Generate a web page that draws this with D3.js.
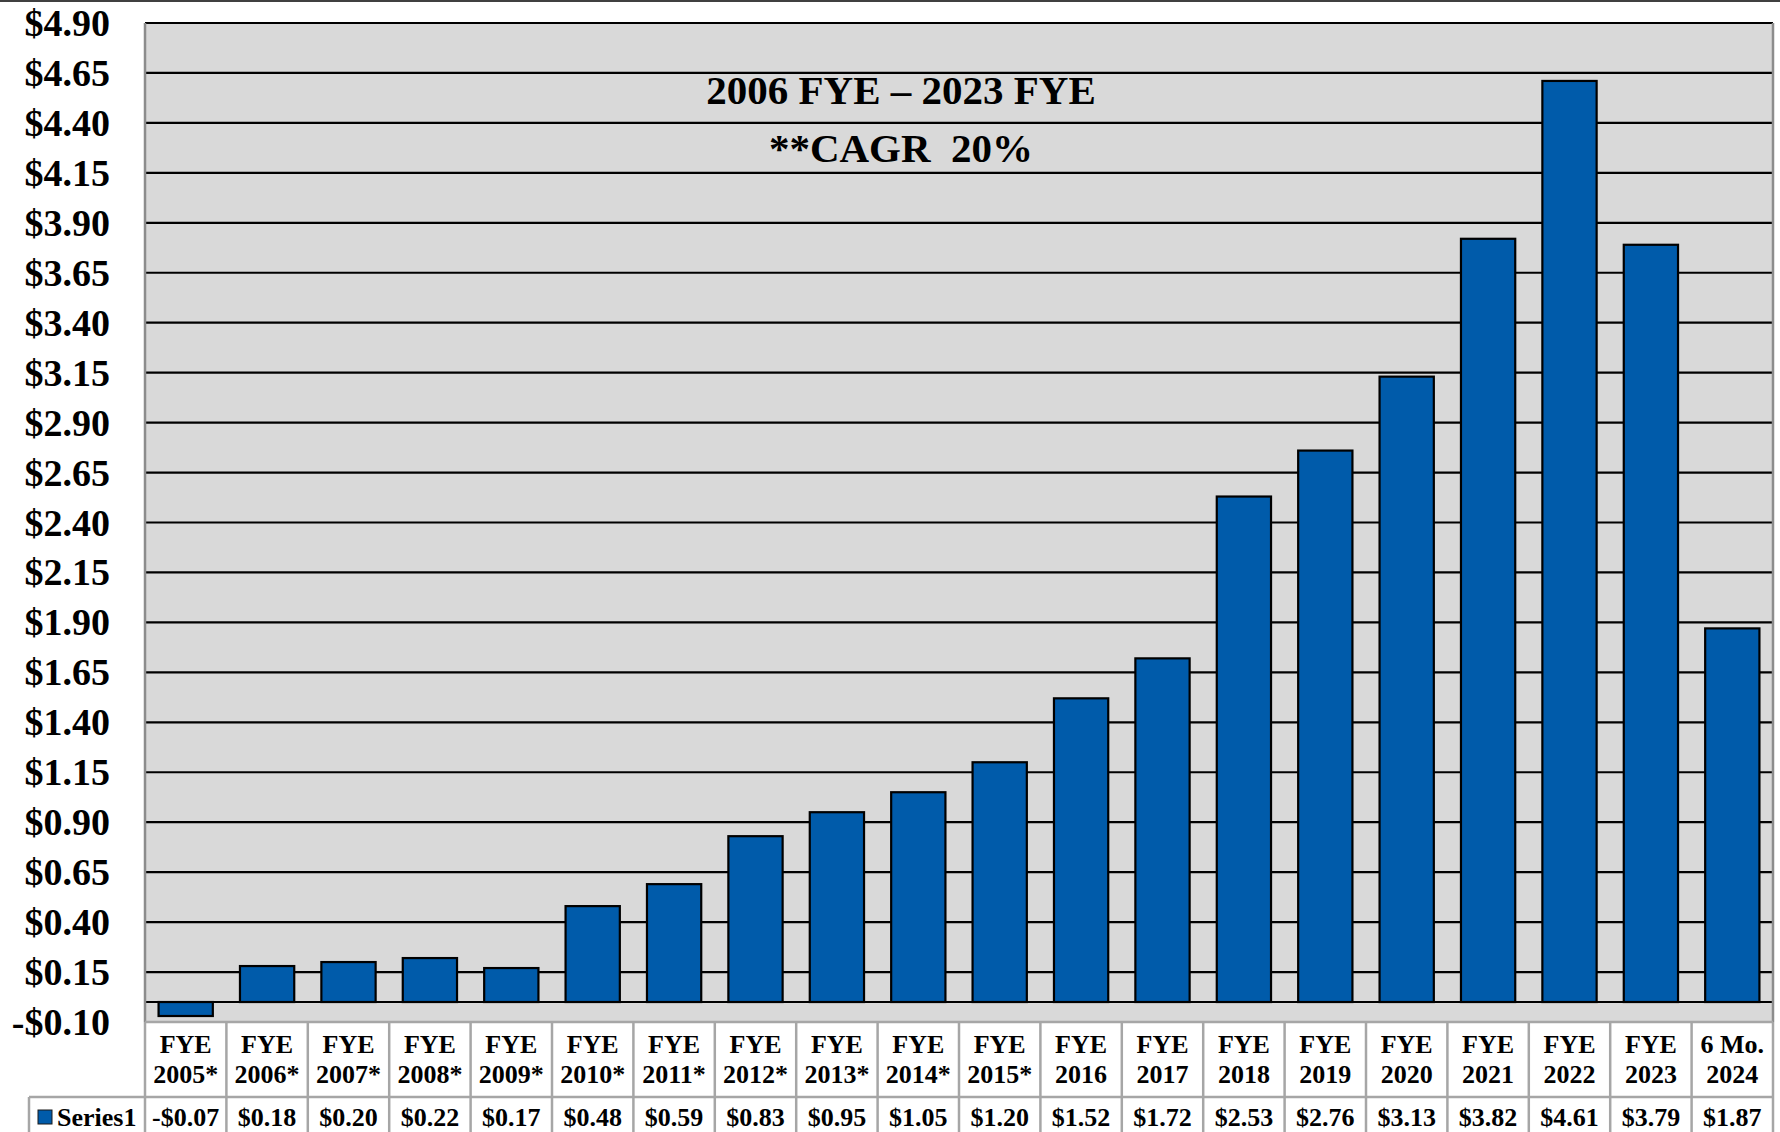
<!DOCTYPE html>
<html>
<head>
<meta charset="utf-8">
<script src="https://cdn.jsdelivr.net/npm/d3@7"></script>
<style>
  body { margin: 0; background: #fff; }
  svg { display: block; }
</style>
</head>
<body>
<div id="container"></div>
<script>
// ---- data
const categories = ["FYE 2005*", "FYE 2006*", "FYE 2007*", "FYE 2008*", "FYE 2009*",
                    "FYE 2010*", "FYE 2011*", "FYE 2012*", "FYE 2013*", "FYE 2014*",
                    "FYE 2015*", "FYE 2016", "FYE 2017", "FYE 2018", "FYE 2019",
                    "FYE 2020", "FYE 2021", "FYE 2022", "FYE 2023", "6 Mo. 2024"];
const values = [-0.07, 0.18, 0.20, 0.22, 0.17, 0.48, 0.59, 0.83, 0.95, 1.05,
                1.20, 1.52, 1.72, 2.53, 2.76, 3.13, 3.82, 4.61, 3.79, 1.87];
const tickValues = [-0.10, 0.15, 0.40, 0.65, 0.90, 1.15, 1.40, 1.65, 1.90, 2.15, 2.40,
                    2.65, 2.90, 3.15, 3.40, 3.65, 3.90, 4.15, 4.40, 4.65, 4.90];
const seriesName = "Series1";
const titleLines = ["2006 FYE \u2013 2023 FYE", "**CAGR  20%"];

(function(){
    const width = 1780, height = 1132;
    const plot = {left: 145, right: 1773, top: 23, bottom: 1022};
    const rowSplit = 1097;       // line between category row and value row
    const legendLeft = 29;
    const blue = "#005BAA";
    const font = "'Liberation Serif', 'Times New Roman', serif";

    const x = d3.scaleBand()
        .domain(categories)
        .range([plot.left, plot.right])
        .paddingInner(1/3)
        .paddingOuter(1/6);
    // band step used for the table columns
    const step = x.step();
    const colLeft = i => plot.left + i * step;

    const y = d3.scaleLinear()
        .domain([tickValues[0], tickValues[tickValues.length - 1]])
        .range([plot.bottom, plot.top]);

    const fmt = d => (d < 0 ? "-" : "") + "$" + Math.abs(d).toFixed(2);

    const svg = d3.select("#container").append("svg")
        .attr("width", width)
        .attr("height", height)
        .style("font-family", font)
        .style("font-weight", "bold");

    svg.append("rect").attr("width", width).attr("height", height).attr("fill", "#fff");
    // chart border top edge
    svg.append("line")
        .attr("x1", 0).attr("x2", width).attr("y1", 1).attr("y2", 1)
        .attr("stroke", "#404040").attr("stroke-width", 2);

    // plot background
    svg.append("rect")
        .attr("x", plot.left).attr("y", plot.top)
        .attr("width", plot.right - plot.left)
        .attr("height", plot.bottom - plot.top)
        .attr("fill", "#D9D9D9");

    // gridlines
    svg.append("g")
        .selectAll("line")
        .data(tickValues.slice(1))
        .join("line")
        .attr("x1", plot.left).attr("x2", plot.right)
        .attr("y1", d => y(d)).attr("y2", d => y(d))
        .attr("stroke", "#000").attr("stroke-width", 2.2);

    // y axis labels
    const yAxis = d3.axisLeft(y).tickValues(tickValues).tickFormat(fmt).tickSize(0).tickPadding(0);
    svg.append("g")
        .attr("transform", `translate(110,0)`)
        .call(yAxis)
        .call(g => g.select(".domain").remove())
        .call(g => g.selectAll("text")
            .attr("fill", "#000")
            .style("font-family", font)
            .style("font-size", "38px")
            .style("font-weight", "bold")
            .attr("dy", "0.33em"));

    // bars
    svg.append("g")
        .selectAll("rect")
        .data(values)
        .join("rect")
        .attr("x", (d, i) => x(categories[i]))
        .attr("width", x.bandwidth())
        .attr("y", d => y(Math.max(0, d)))
        .attr("height", d => Math.abs(y(d) - y(0)))
        .attr("fill", blue)
        .attr("stroke", "#000")
        .attr("stroke-width", 2.2);

    // zero line
    svg.append("line")
        .attr("x1", plot.left).attr("x2", plot.right)
        .attr("y1", y(0)).attr("y2", y(0))
        .attr("stroke", "#000").attr("stroke-width", 2.2);

    // plot left/right edges
    svg.append("g")
        .selectAll("line")
        .data([plot.left, plot.right])
        .join("line")
        .attr("x1", d => d).attr("x2", d => d)
        .attr("y1", plot.top).attr("y2", plot.bottom)
        .attr("stroke", "#8C8C8C").attr("stroke-width", 2.5);

    // title
    svg.append("g")
        .selectAll("text")
        .data(titleLines)
        .join("text")
        .attr("x", 901)
        .attr("y", (d, i) => 104 + i * 58)
        .attr("text-anchor", "middle")
        .style("font-size", "41px")
        .style("white-space", "pre")
        .attr("fill", "#000")
        .text(d => d);

    // ---- data table
    const table = svg.append("g");
    const gray = "#A6A6A6";
    // horizontal lines
    table.append("line")
        .attr("x1", plot.left).attr("x2", plot.right)
        .attr("y1", plot.bottom).attr("y2", plot.bottom)
        .attr("stroke", gray).attr("stroke-width", 2.5);
    table.append("line")
        .attr("x1", legendLeft).attr("x2", plot.right)
        .attr("y1", rowSplit).attr("y2", rowSplit)
        .attr("stroke", gray).attr("stroke-width", 2.5);
    // vertical lines
    table.selectAll("line.col")
        .data(d3.range(categories.length + 1))
        .join("line")
        .attr("class", "col")
        .attr("x1", i => colLeft(i)).attr("x2", i => colLeft(i))
        .attr("y1", plot.bottom).attr("y2", height)
        .attr("stroke", gray).attr("stroke-width", 2.5);
    table.append("line")
        .attr("x1", legendLeft).attr("x2", legendLeft)
        .attr("y1", rowSplit).attr("y2", height)
        .attr("stroke", gray).attr("stroke-width", 2.5);

    // category labels (two lines)
    const cat = table.selectAll("text.cat")
        .data(categories)
        .join("text")
        .attr("class", "cat")
        .attr("text-anchor", "middle")
        .style("font-size", "26px")
        .attr("fill", "#000");
    cat.append("tspan")
        .attr("x", d => x(d) + x.bandwidth() / 2)
        .attr("y", 1053)
        .text(d => d.slice(0, d.lastIndexOf(" ")));
    cat.append("tspan")
        .attr("x", d => x(d) + x.bandwidth() / 2)
        .attr("y", 1083)
        .text(d => d.slice(d.lastIndexOf(" ") + 1));

    // values row
    table.selectAll("text.val")
        .data(values)
        .join("text")
        .attr("class", "val")
        .attr("text-anchor", "middle")
        .attr("x", (d, i) => x(categories[i]) + x.bandwidth() / 2)
        .attr("y", 1126)
        .style("font-size", "26px")
        .attr("fill", "#000")
        .text(fmt);

    // legend key
    table.append("rect")
        .attr("x", 38).attr("y", 1110).attr("width", 14).attr("height", 14)
        .attr("fill", blue).attr("stroke", "#1a1a1a").attr("stroke-width", 1);
    table.append("text")
        .attr("x", 57).attr("y", 1126)
        .style("font-size", "26px")
        .attr("fill", "#000")
        .text(seriesName);
})();
</script>
</body>
</html>
